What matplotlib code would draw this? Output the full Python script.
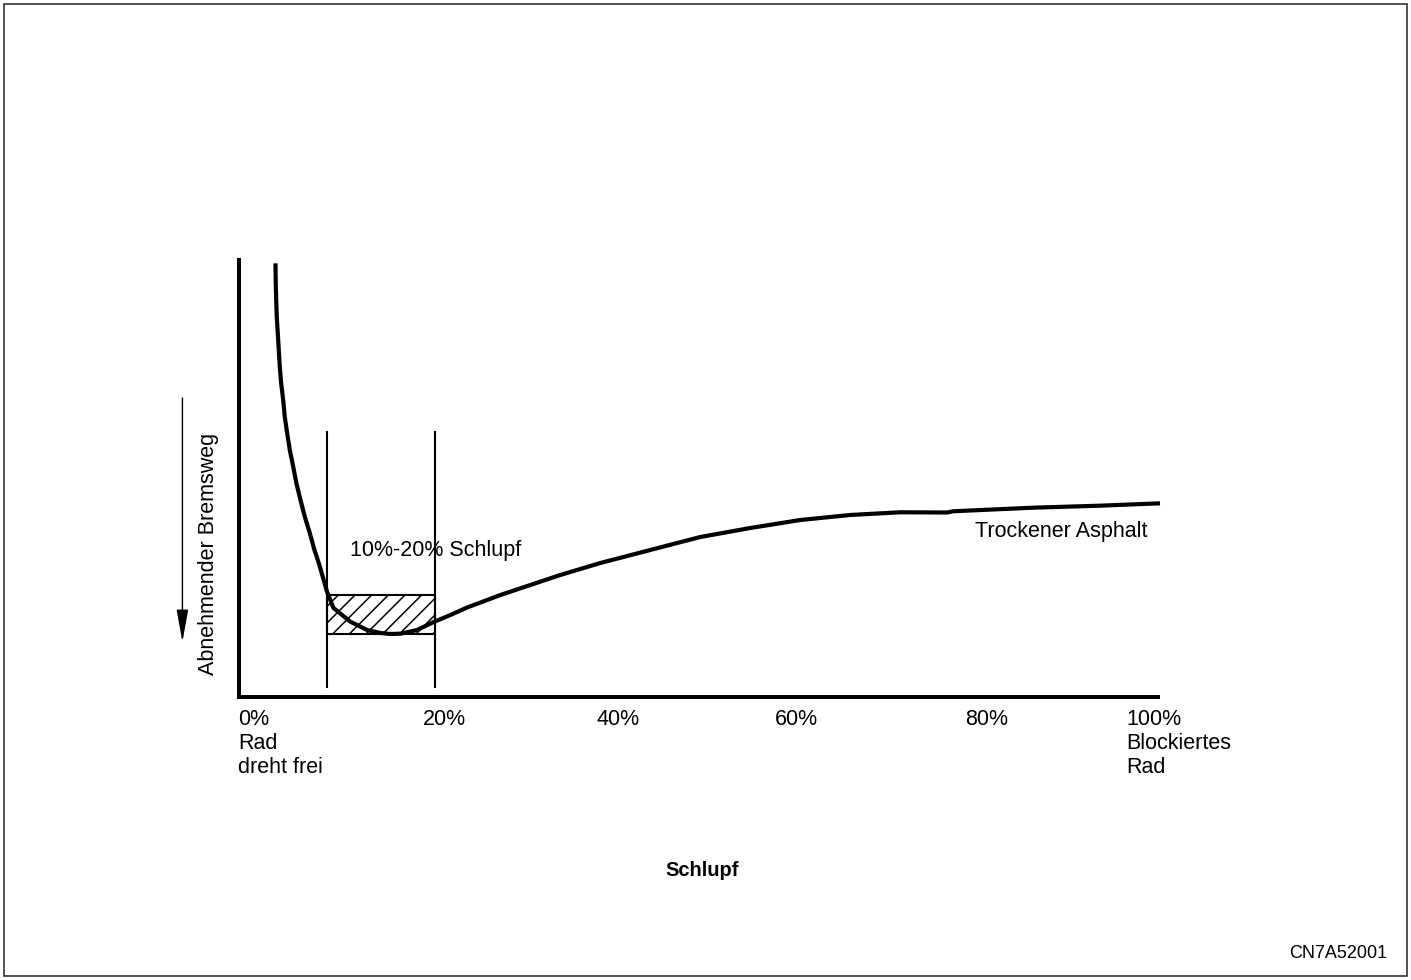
import matplotlib
matplotlib.use("Agg")
import matplotlib.pyplot as plt
from matplotlib.patches import Rectangle

plt.rcParams["font.family"] = ["Liberation Sans", "DejaVu Sans"]
plt.rcParams["hatch.linewidth"] = 1.1

# Braking distance (relative units, 0 = bottom of axis) versus wheel slip (%)
slip_pct = [4.02, 4.05, 4.10, 4.16, 4.27, 4.38, 4.49, 4.64, 4.86, 5.03, 5.29,
            5.58, 5.95, 6.30, 6.74, 7.21, 7.75, 8.26, 8.73, 9.16, 9.64, 10.33,
            12.17, 13.99, 15.43, 16.52, 17.61, 19.42, 21.23, 23.04, 24.86,
            28.48, 31.74, 35.00, 39.35, 44.78, 50.22, 55.65, 61.09, 66.52,
            71.96, 77.03, 77.72, 86.41, 93.70, 100.22]
distance = [99.24, 94.67, 90.85, 87.03, 83.30, 79.41, 75.58, 71.78, 67.96,
            64.14, 60.41, 56.52, 52.70, 48.90, 45.08, 41.26, 37.53, 33.64,
            30.66, 27.53, 24.00, 20.37, 17.23, 15.33, 14.65, 14.42, 14.49,
            15.33, 17.16, 18.76, 20.48, 23.34, 25.63, 27.92, 30.66, 33.64,
            36.61, 38.67, 40.50, 41.65, 42.27, 42.22, 42.50, 43.32, 43.78,
            44.32]

# Optimal slip window
window_x = [9.6, 21.4]
window_y = [14.4, 23.4]
marker_y = [2.3, 60.7]

tick_pos = [0, 22.4, 41.3, 60.7, 81.4, 96.6]
tick_labels = ["0%\nRad\ndreht frei", "20%", "40%", "60%", "80%",
               "100%\nBlockiertes\nRad"]

W, H = 1411, 980
fig = plt.figure(figsize=(W / 100, H / 100), dpi=100)

left, right, top, bottom = 238.5, 1158, 260, 697
ax = fig.add_axes([left / W, 1 - bottom / H, (right - left) / W, (bottom - top) / H])
ax.set_xlim(0, 100)
ax.set_ylim(0, 100)

for s in ("top", "right"):
    ax.spines[s].set_visible(False)
for s in ("left", "bottom"):
    ax.spines[s].set_linewidth(2.9)
    ax.spines[s].set_capstyle("projecting")

FS = 15.5

# hatched slip window and its boundary lines
ax.add_patch(Rectangle((window_x[0], window_y[0]), window_x[1] - window_x[0],
                       window_y[1] - window_y[0], facecolor="white",
                       edgecolor="black", linewidth=1.5, hatch="//", zorder=2))
for xv in window_x:
    ax.plot([xv, xv], marker_y, color="black", linewidth=1.5, zorder=3)

ax.plot(slip_pct, distance, color="black", linewidth=3.0, zorder=4,
        solid_capstyle="butt", solid_joinstyle="round", clip_on=False)

ax.text(12.1, 33.6, "10%-20% Schlupf", fontsize=FS, ha="left", va="center")
ax.text(80.1, 37.8, "Trockener Asphalt", fontsize=FS, ha="left", va="center")

ax.set_xticks(tick_pos, tick_labels, fontsize=FS, linespacing=1.19)
ax.tick_params(axis="x", length=0, pad=8.5)
ax.set_yticks([])
for i in (0, -1):
    lbl = ax.get_xticklabels()[i]
    lbl.set_horizontalalignment("left")
    lbl.set_multialignment("left")

ax.set_ylabel("Abnehmender Bremsweg", fontsize=FS, va="center")
ax.yaxis.set_label_coords(-0.0326, 0.327)
ax.set_xlabel("Schlupf", fontsize=FS - 1, fontweight="bold", va="center")
ax.xaxis.set_label_coords(0.504, -0.396)

# arrow pointing toward decreasing braking distance
ax.annotate("", xy=(-6.1, 12.6), xytext=(-6.1, 68.4),
            arrowprops=dict(arrowstyle="-|>,head_length=2.0,head_width=0.36",
                            mutation_scale=10, color="black", linewidth=1.0,
                            shrinkA=0, shrinkB=0),
            annotation_clip=False)

fig.text(1387 / W, 1 - 953 / H, "CN7A52001", fontsize=13, ha="right", va="center")

fig.add_artist(Rectangle((3.5 / W, 4 / H), (1407 - 3.5) / W, (976 - 4) / H,
                         transform=fig.transFigure, fill=False,
                         edgecolor="#222222", linewidth=1.1))

fig.savefig("out.png", dpi=100)
